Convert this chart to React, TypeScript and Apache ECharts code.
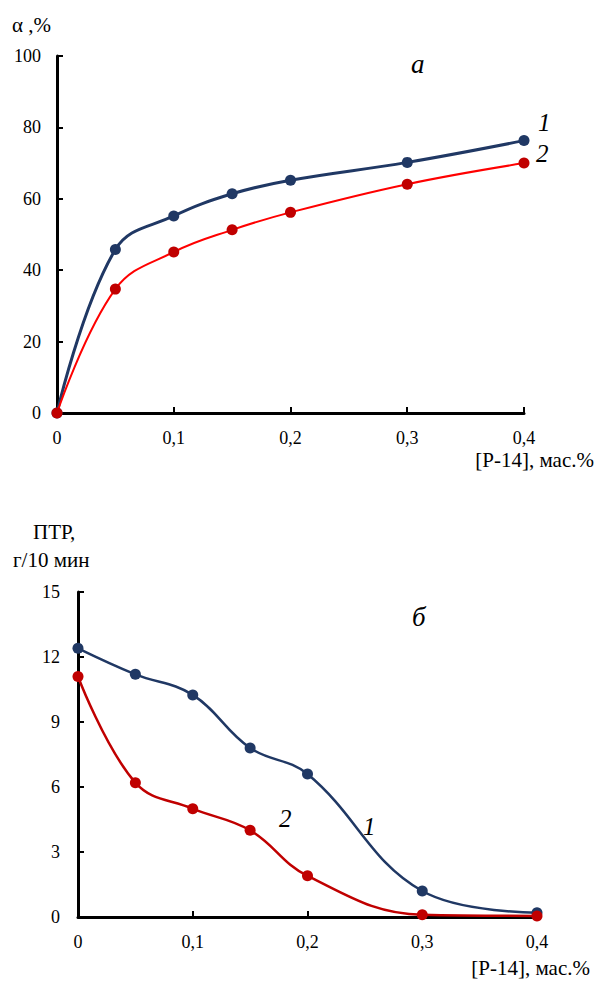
import React, { useEffect, useRef } from "react";
import * as echarts from "echarts";

const xValues = [0, 0.05, 0.1, 0.15, 0.2, 0.3, 0.4];
const alpha1 = [0, 45.8, 55.2, 61.4, 65.2, 70.2, 76.3];
const alpha2 = [0, 34.7, 45.1, 51.3, 56.2, 64.1, 70.0];
const ptr1 = [12.4, 11.2, 10.25, 7.8, 6.6, 1.2, 0.2];
const ptr2 = [11.1, 6.2, 5.0, 4.0, 1.9, 0.1, 0.05];

const FONT = "Liberation Serif";
const NAVY = "#203864";
const RED_LINE = "#FF0000";
const RED_DOT = "#C00000";

const pairs = (ys: number[]) => xValues.map((x, i) => [x, ys[i]]);

const txt = (text: string, pos: any, size: number, italic = false) => ({
  type: "text",
  ...pos,
  style: { text, fontFamily: FONT, fontSize: size, fontStyle: italic ? "italic" : "normal", fill: "#000" },
});

export default function App() {
  const ref = useRef<HTMLDivElement>(null);
  useEffect(() => {
    document.body.style.margin = "0";
    const chart = echarts.init(ref.current!, null, { renderer: "svg" });
    const axisCommon = {
      axisLine: { show: true, lineStyle: { color: "#000", width: 3 } },
      axisTick: { show: true, inside: true, length: 6, lineStyle: { color: "#000", width: 2 } },
      splitLine: { show: false },
      axisLabel: { color: "#000", fontFamily: FONT, fontSize: 18 },
    };
    const xAxisOf = (gi: number) => ({
      ...axisCommon,
      type: "value",
      gridIndex: gi,
      min: 0,
      max: 0.4,
      interval: 0.1,
      axisLabel: {
        ...axisCommon.axisLabel,
        margin: 16,
        formatter: (v: number) => String(Math.round(v * 10) / 10).replace(".", ","),
      },
    });
    const lineSeries = (xi: number, ys: number[], lineColor: string, dotColor: string, width: number, z: number) => ({
      type: "line",
      xAxisIndex: xi,
      yAxisIndex: xi,
      data: pairs(ys),
      smooth: 0.4,
      symbol: "circle",
      symbolSize: 11,
      lineStyle: { color: lineColor, width },
      itemStyle: { color: dotColor },
      z,
    });
    chart.setOption({
      animation: false,
      backgroundColor: "#fff",
      textStyle: { fontFamily: FONT },
      grid: [
        { left: 57, top: 56, width: 467, height: 357 },
        { left: 78, top: 592, width: 459, height: 325 },
      ],
      xAxis: [xAxisOf(0), xAxisOf(1)],
      yAxis: [
        {
          ...axisCommon,
          type: "value",
          gridIndex: 0,
          min: 0,
          max: 100,
          interval: 20,
          axisLabel: { ...axisCommon.axisLabel, margin: 16 },
        },
        {
          ...axisCommon,
          type: "value",
          gridIndex: 1,
          min: 0,
          max: 15,
          interval: 3,
          axisLabel: { ...axisCommon.axisLabel, margin: 18 },
        },
      ],
      series: [
        lineSeries(0, alpha1, NAVY, NAVY, 3, 3),
        lineSeries(0, alpha2, RED_LINE, RED_DOT, 2, 4),
        lineSeries(1, ptr1, NAVY, NAVY, 2.5, 3),
        lineSeries(1, ptr2, RED_DOT, RED_DOT, 2.5, 4),
      ],
      graphic: [
        txt("α ,%", { left: 12, top: 14 }, 21),
        txt("а", { left: 411, top: 50 }, 27, true),
        txt("1", { left: 538, top: 110 }, 25, true),
        txt("2", { left: 536, top: 141 }, 25, true),
        txt("[Р-14], мас.%", { right: 2, top: 449 }, 21),
        txt("ПТР,", { left: 33, top: 521 }, 21),
        txt("г/10 мин", { left: 13, top: 549 }, 21),
        txt("б", { left: 412, top: 603 }, 27, true),
        txt("1", { left: 363, top: 814 }, 25, true),
        txt("2", { left: 279, top: 806 }, 25, true),
        txt("[Р-14], мас.%", { right: 6, top: 957 }, 21),
      ],
    });
    return () => chart.dispose();
  }, []);
  return <div ref={ref} style={{ width: 596, height: 983 }} />;
}
